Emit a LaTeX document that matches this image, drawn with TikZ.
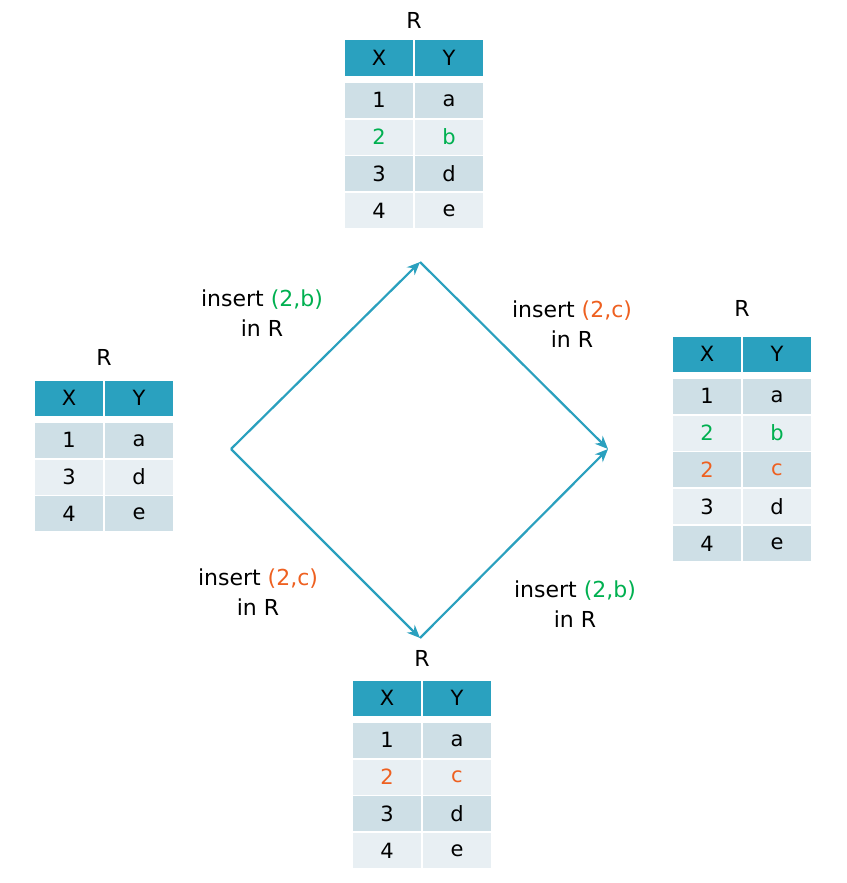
\documentclass[tikz,border=0pt]{standalone}
\usepackage{fontspec}
\setmainfont{DejaVu Sans}
\usetikzlibrary{arrows.meta}
\definecolor{myhead}{RGB}{42,161,191}
\definecolor{mydark}{RGB}{206,223,230}
\definecolor{mylight}{RGB}{232,239,243}
\definecolor{mygreen}{RGB}{0,176,80}
\definecolor{myorange}{RGB}{238,96,32}
\definecolor{myarrow}{RGB}{42,160,190}
\tikzset{
  cell/.style={minimum width=68,minimum height=35,inner sep=0,font=\fontsize{21}{21}\selectfont},
  head/.style={cell,fill=myhead},
  title/.style={font=\fontsize{22}{22}\selectfont},
  move/.style={myarrow,line width=2.2,-{Stealth[length=13,width=11]}},
  lbl/.style={align=center,font=\fontsize{22}{30}\selectfont},
}
\def\gr#1{\textcolor{mygreen}{#1}}
\def\og#1{\textcolor{myorange}{#1}}
% table: name, left x, title y, header top y, list of rows x/y/colour
\def\rtable#1#2#3#4#5{%
  \node[title] (#1t) at (#2+70,#3) {R};
  \node[head] (#1hx) at (#2+35,#4+18) {X};
  \node[head] (#1hy) at (#2+105,#4+18) {Y};
  \foreach \vx/\vy/\c [count=\i] in {#5}{
    \pgfmathsetmacro\rowy{#4+5+18.5+36.8*\i}
    \pgfmathtruncatemacro\odd{mod(\i,2)}
    \ifnum\odd=1 \def\bg{mydark}\else\def\bg{mylight}\fi
    \node[cell,fill=\bg,text=\c] (#1x\i) at (#2+35,\rowy) {\vx};
    \node[cell,fill=\bg,text=\c] (#1y\i) at (#2+105,\rowy) {\vy};
  }
}
\begin{document}
\begin{tikzpicture}[x=1pt,y=-1pt]
  \useasboundingbox (0,0) rectangle (846,883);
  % TABLES
  \rtable{L}{34}{357}{380}{1/a/black,3/d/black,4/e/black}
  \rtable{T}{344}{20}{40}{1/a/black,2/b/mygreen,3/d/black,4/e/black}
  \rtable{B}{352}{658}{680}{1/a/black,2/c/myorange,3/d/black,4/e/black}
  \rtable{E}{672}{308}{336}{1/a/black,2/b/mygreen,2/c/myorange,3/d/black,4/e/black}
  % ARROWS
  \coordinate (s) at (231,449);
  \coordinate (n) at (420,262);
  \coordinate (m) at (420,638);
  \coordinate (e) at (608,449);
  \draw[move] (s) -- (n);
  \draw[move] (n) -- (e);
  \draw[move] (s) -- (m);
  \draw[move] (m) -- (e);
  % LABELS
  \node[lbl] (l1) at (262,313) {insert \gr{(2,b)}\\in R};
  \node[lbl] (l2) at (572,324) {insert \og{(2,c)}\\in R};
  \node[lbl] (l3) at (258,592) {insert \og{(2,c)}\\in R};
  \node[lbl] (l4) at (575,604) {insert \gr{(2,b)}\\in R};
\end{tikzpicture}
\end{document}
